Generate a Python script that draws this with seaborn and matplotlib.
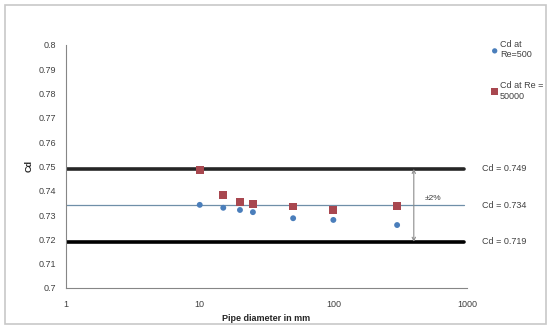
import pandas as pd
import numpy as np
import seaborn as sns
import matplotlib.pyplot as plt
from matplotlib.patches import Rectangle

# datos
diametro = [10, 15, 20, 25, 50, 100, 300]
cd_re500 = [0.7342, 0.7330, 0.7321, 0.7312, 0.7287, 0.7280, 0.7259]
cd_re50000 = [0.7486, 0.7383, 0.7355, 0.7344, 0.7335, 0.7321, 0.7339]

cd_lineas = [0.749, 0.734, 0.719]
cd_etiquetas = ["Cd = 0.749", "Cd = 0.734", "Cd = 0.719"]
y_ticks = [0.7, 0.71, 0.72, 0.73, 0.74, 0.75, 0.76, 0.77, 0.78, 0.79, 0.8]
y_tick_labels = ["0.7", "0.71", "0.72", "0.73", "0.74", "0.75", "0.76", "0.77", "0.78", "0.79", "0.8"]
x_ticks = [1, 10, 100, 1000]
x_tick_labels = ["1", "10", "100", "1000"]

sns.set_style("white")
plt.rcParams['font.family'] = ['Liberation Sans', 'DejaVu Sans']

df = pd.DataFrame({"d": diametro, "re500": cd_re500, "re50000": cd_re50000})

fig = plt.figure(figsize=(5.51, 3.28), dpi=100)
ax = fig.add_axes([0.12, 0.122, 0.7275, 0.741])

gris = "#868686"

# lineas de referencia
ax.plot([1, 950], [cd_lineas[0]] * 2, color="#262626", lw=2.6, zorder=1)
ax.plot([1, 950], [cd_lineas[1]] * 2, color="#6f8fa8", lw=0.9, zorder=1)
ax.plot([1, 950], [cd_lineas[2]] * 2, color="black", lw=2.6, zorder=1)

sns.scatterplot(data=df, x="d", y="re500", ax=ax, marker="o", s=18, color="#4A7EBB",
                edgecolor="none", label="Cd at\nRe=500", zorder=3)
sns.scatterplot(data=df, x="d", y="re50000", ax=ax, marker="s", s=32, color="#A8474F",
                edgecolor="none", label="Cd at Re =\n50000", zorder=3)

ax.set_xscale("log")
ax.set_xlim(1, 1000)
ax.set_ylim(0.7, 0.8)
ax.set_xticks(x_ticks)
ax.set_xticklabels(x_tick_labels)
ax.xaxis.set_minor_locator(plt.NullLocator())
ax.set_yticks(y_ticks)
ax.set_yticklabels(y_tick_labels)
ax.tick_params(axis="both", labelsize=6.5, colors="#404040", length=3, color=gris, direction="out")
ax.tick_params(axis="x", pad=6)
ax.tick_params(axis="y", pad=4)

for lado in ["top", "right"]:
    ax.spines[lado].set_visible(False)
for lado in ["left", "bottom"]:
    ax.spines[lado].set_color(gris)
    ax.spines[lado].set_linewidth(0.8)

ax.set_xlabel("Pipe diameter in mm", fontsize=6.5, fontweight="bold", labelpad=3)
ax.set_ylabel("Cd", fontsize=6.5, fontweight="bold", labelpad=4)

# flecha +-2%
ax.annotate("", xy=(400, cd_lineas[0]), xytext=(400, cd_lineas[2]),
            arrowprops=dict(arrowstyle="<->", color="#8c8c8c", lw=0.8,
                            mutation_scale=6, shrinkA=0, shrinkB=0))
ax.text(480, 0.7355, "±2%", fontsize=6, color="#404040", va="bottom", ha="left")

for val, txt in zip(cd_lineas, cd_etiquetas):
    ax.text(1300, val, txt, fontsize=6.5, color="#404040", va="center", ha="left",
            clip_on=False)

leg = ax.legend(loc="upper left", bbox_to_anchor=(1.05, 1.035), frameon=False,
                fontsize=6.5, handletextpad=0.15, labelspacing=2.4, borderaxespad=0,
                handlelength=0.9, markerscale=0.9)
for t in leg.get_texts():
    t.set_color("#404040")

# borde del area del grafico
fig.patches.append(Rectangle((0.009, 0.012), 0.982, 0.972, transform=fig.transFigure,
                             fill=False, edgecolor="#c8c8c8", lw=1.2))

fig.savefig("out.png", dpi=100)
